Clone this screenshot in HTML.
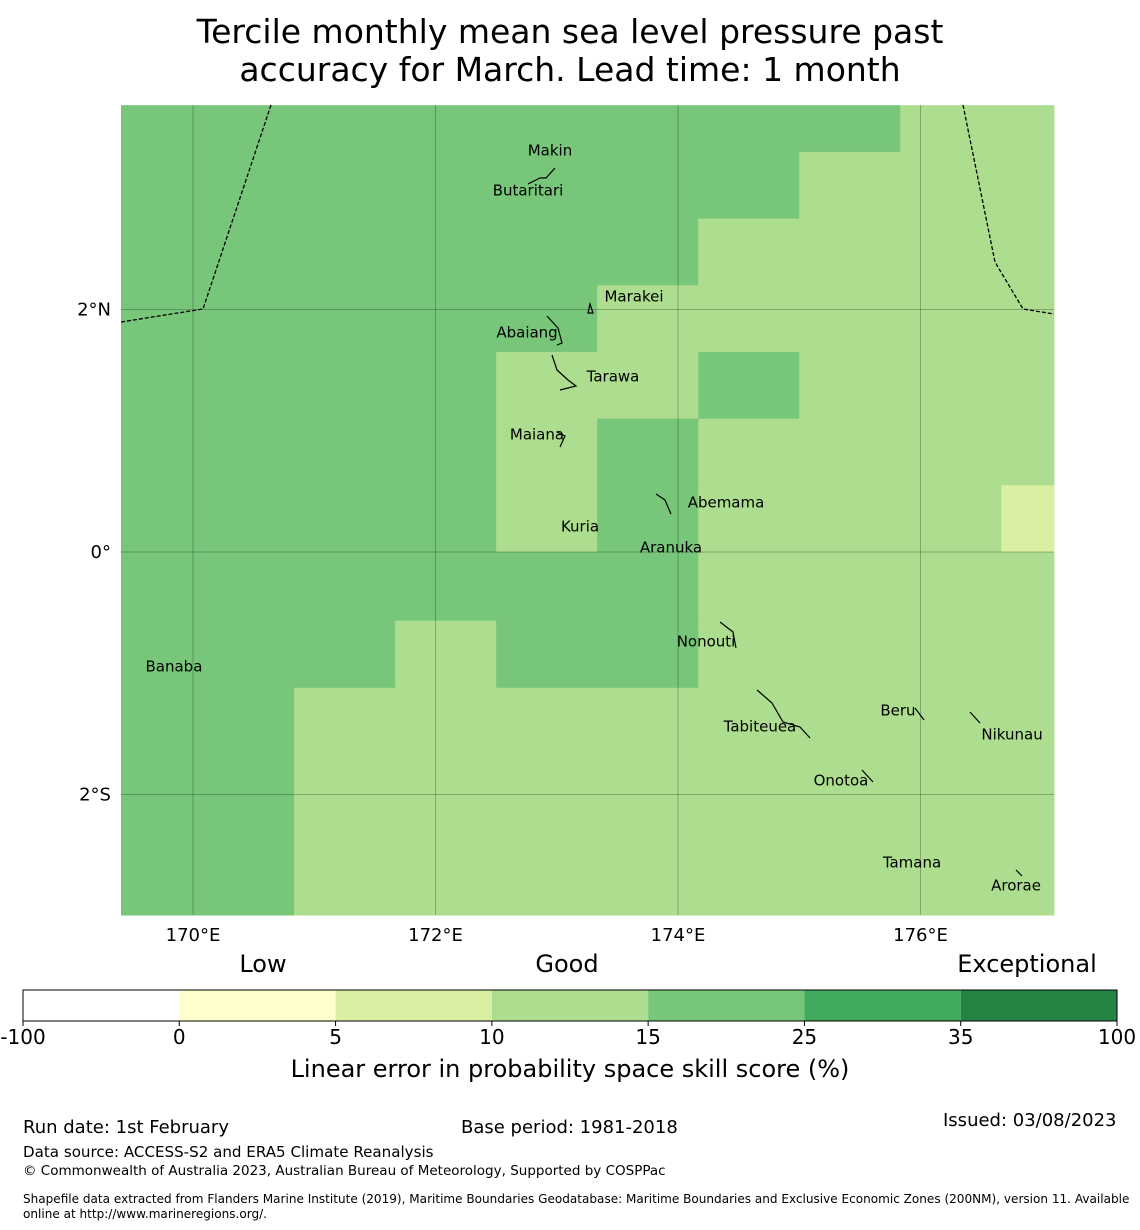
<!DOCTYPE html>
<html><head><meta charset="utf-8"><style>
body{margin:0;background:#fff;}
svg{display:block;font-family:"DejaVu Sans","Liberation Sans",sans-serif;}
</style></head><body>
<svg id="chart" width="1140" height="1230" viewBox="0 0 1140 1230">
<text x="570" y="43" font-size="33" text-anchor="middle">Tercile monthly mean sea level pressure past</text>
<text x="570" y="81" font-size="33" text-anchor="middle">accuracy for March. Lead time: 1 month</text>
<g id="map"></g>
<g id="cbar"></g>
<text x="263" y="972" font-size="24" text-anchor="middle">Low</text>
<text x="567" y="972" font-size="24" text-anchor="middle">Good</text>
<text x="1027" y="972" font-size="24" text-anchor="middle">Exceptional</text>
<text x="570" y="1077" font-size="24" text-anchor="middle">Linear error in probability space skill score (%)</text>
<text x="23" y="1133" font-size="18">Run date: 1st February</text>
<text x="461" y="1133" font-size="18">Base period: 1981-2018</text>
<text x="943" y="1126" font-size="18">Issued: 03/08/2023</text>
<text x="23" y="1157" font-size="15.1">Data source: ACCESS-S2 and ERA5 Climate Reanalysis</text>
<text x="23" y="1175" font-size="13.5">© Commonwealth of Australia 2023, Australian Bureau of Meteorology, Supported by COSPPac</text>
<text x="23" y="1203" font-size="12.05">Shapefile data extracted from Flanders Marine Institute (2019), Maritime Boundaries Geodatabase: Maritime Boundaries and Exclusive Economic Zones (200NM), version 11. Available</text>
<text x="23" y="1218" font-size="12.05">online at http://www.marineregions.org/.</text>
</svg>
<script>
// grid skill categories (2 = 15-25 band, 1 = 10-15 band, 0 = 5-10 band), rows north->south
const colEdgesLon = [169.4, 170.0, 170.833, 171.667, 172.5, 173.333, 174.167, 175.0, 175.833, 176.667, 177.1];
const rowEdgesLat = [3.685, 3.3, 2.75, 2.2, 1.65, 1.1, 0.55, 0.0, -0.567, -1.12, -3.0];
const grid = [
 [2,2,2,2,2,2,2,2,1,1],
 [2,2,2,2,2,2,2,1,1,1],
 [2,2,2,2,2,2,1,1,1,1],
 [2,2,2,2,2,1,1,1,1,1],
 [2,2,2,2,1,1,2,1,1,1],
 [2,2,2,2,1,2,1,1,1,1],
 [2,2,2,2,1,2,1,1,1,0],
 [2,2,2,2,2,2,1,1,1,1],
 [2,2,2,1,2,2,1,1,1,1],
 [2,2,1,1,1,1,1,1,1,1]
];
const lonTicks = [170,172,174,176];
const lonLabels = ["170°E","172°E","174°E","176°E"];
const latTicks = [2,0,-2];
const latLabels = ["2°N","0°","2°S"];
const islands = [["Makin",172.944,3.315],["Butaritari",172.763,2.986],["Marakei",173.637,2.111],["Abaiang",172.755,1.814],["Tarawa",173.464,1.452],["Maiana",172.837,0.973],["Abemama",174.396,0.412],["Kuria",173.192,0.214],["Aranuka",173.942,0.041],["Nonouti",174.231,-0.734],["Banaba",169.843,-0.94],["Beru",175.814,-1.303],["Tabiteuea",174.676,-1.435],["Nikunau",176.755,-1.501],["Onotoa",175.344,-1.88],["Tamana",175.93,-2.557],["Arorae",176.788,-2.746]];
const cbBounds = ["-100","0","5","10","15","25","35","100"];
const cbColors = ["#ffffff","#ffffcc","#d9f0a3","#addd8e","#78c679","#41ab5d","#238443"];

const NS="http://www.w3.org/2000/svg";
const X0=121,X1=1054,Y0=105,Y1=915;
const xs=lon=>193+(lon-170)*121.25;
const ys=lat=>552-lat*121.25;
const catColor=[cbColors[2],cbColors[3],cbColors[4]];
function mk(tag,attrs,parent){const e=document.createElementNS(NS,tag);for(const k in attrs)e.setAttribute(k,attrs[k]);parent.appendChild(e);return e;}
const map=document.getElementById('map');
for(let r=0;r<grid.length;r++)for(let c=0;c<grid[r].length;c++){
 const x=Math.max(X0,xs(colEdgesLon[c])),x2=Math.min(X1,xs(colEdgesLon[c+1]));
 const y=Math.max(Y0,ys(rowEdgesLat[r])),y2=Math.min(Y1,ys(rowEdgesLat[r+1]));
 const e=mk('rect',{x:x,y:y,width:x2-x+0.5,height:y2-y+0.5,fill:catColor[grid[r][c]]},map);
 
 
}
lonTicks.forEach((l,i)=>{
 const x=xs(l);
 const g=mk('line',{x1:x,x2:x,y1:Y0,y2:Y1,stroke:'#000','stroke-opacity':0.25,'stroke-width':1},map);
 
 
 const t=mk('text',{x:x,y:941,'font-size':18,'text-anchor':'middle'},map);t.textContent=lonLabels[i];
 
 
});
latTicks.forEach((l,i)=>{
 const y=ys(l);
 const g=mk('line',{x1:X0,x2:X1,y1:y,y2:y,stroke:'#000','stroke-opacity':0.25,'stroke-width':1},map);
 
 
 const t=mk('text',{x:111,y:y+6,'font-size':18,'text-anchor':'end'},map);t.textContent=latLabels[i];
 
 
});
const b1=mk('polyline',{points:'271,105 203,309 121,322',fill:'none',stroke:'#000','stroke-width':1.3,'stroke-dasharray':'4,2'},map);


const b2=mk('polyline',{points:'963,105 995,262 1023,309 1054,314',fill:'none',stroke:'#000','stroke-width':1.3,'stroke-dasharray':'4,2'},map);


const shapes=['M528,184 L540,178 L546,178 L555,168','M590,304 L593,313 L588,313 Z','M547,316 L558,328 L562,343 L557,345','M552,355 L557,370 L568,380 L576,386 L560,390','M557,432 L565,436 L560,447','M656,494 L665,500 L671,514','M720,622 L733,632 L736,648','M757,690 L772,703 L783,722 L800,727 L810,738','M915,708 L924,720','M970,712 L980,723','M862,770 L873,782','M1016,870 L1022,876'];
shapes.forEach(d=>{const p=mk('path',{d:d,fill:'none',stroke:'#000','stroke-width':1.2},map);
 
 });
islands.forEach(s=>{const t=mk('text',{x:xs(s[1]),y:ys(s[2])+5.5,'font-size':15,'text-anchor':'middle'},map);t.textContent=s[0];
 
 });
const cb=document.getElementById('cbar');
const cbX0=23,cbW=1094,cbY=990,cbH=31,seg=cbW/cbColors.length;
cbColors.forEach((c,i)=>{const r=mk('rect',{x:cbX0+i*seg,y:cbY,width:seg,height:cbH,fill:c},cb);
 
 });
mk('rect',{x:cbX0,y:cbY,width:cbW,height:cbH,fill:'none',stroke:'#000','stroke-width':1},cb);
cbBounds.forEach((b,i)=>{const x=cbX0+i*seg;
 mk('line',{x1:x,x2:x,y1:cbY+cbH,y2:cbY+cbH+5,stroke:'#000'},cb);
 const t=mk('text',{x:x,y:1044,'font-size':20,'text-anchor':'middle'},cb);t.textContent=b;
 
 });
</script>
</body></html>
